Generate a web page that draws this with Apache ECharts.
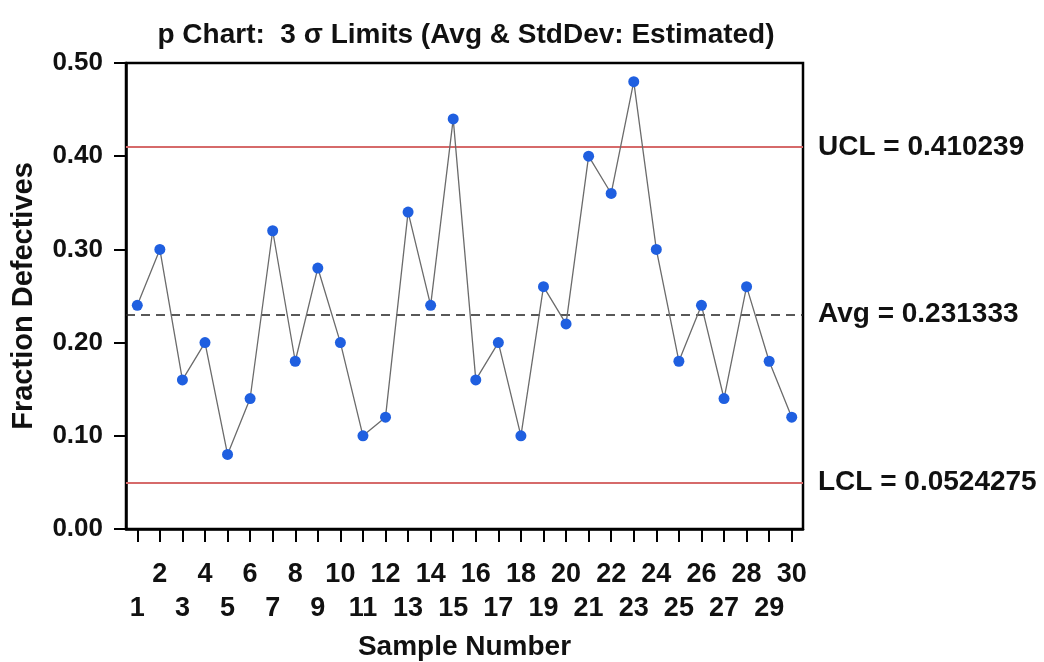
<!DOCTYPE html>
<html>
<head>
<meta charset="utf-8">
<script src="https://cdn.jsdelivr.net/npm/echarts@6/dist/echarts.min.js"></script>
<style>html,body{margin:0;padding:0;background:#fff}#c{width:1044px;height:662px}</style>
</head>
<body>
<div id="c"></div>
<script>
const samples = [1,2,3,4,5,6,7,8,9,10,11,12,13,14,15,16,17,18,19,20,21,22,23,24,25,26,27,28,29,30];
const fractions = [0.24,0.30,0.16,0.20,0.08,0.14,0.32,0.18,0.28,0.20,0.10,0.12,0.34,0.24,0.44,0.16,0.20,0.10,0.26,0.22,0.40,0.36,0.48,0.30,0.18,0.24,0.14,0.26,0.18,0.12];
const UCL = 0.410239;
const AVG = 0.231333;
const LCL = 0.0524275;
const yTicks = {min: 0, max: 0.5, interval: 0.1};

const FONT = 'Liberation Sans, Arial, Helvetica, sans-serif';
const chart = echarts.init(document.getElementById('c'), null, {renderer: 'canvas'});
chart.setOption({
  animation: false,
  backgroundColor: '#fff',
  title: {
    text: 'p Chart:  3 σ Limits (Avg & StdDev: Estimated)',
    left: 461, top: 16, textAlign: 'center',
    textStyle: {fontFamily: FONT, fontSize: 28, fontWeight: 'bold', color: '#111'}
  },
  grid: {left: 126, right: 241, top: 63, bottom: 133, containLabel: false, outerBoundsMode: 'none', show: true, borderColor: '#000', borderWidth: 2.5, backgroundColor: '#fff'},
  xAxis: {
    type: 'category',
    data: samples.map(String),
    boundaryGap: true,
    name: 'Sample Number',
    nameLocation: 'middle',
    nameGap: 104,
    nameTextStyle: {fontFamily: FONT, fontSize: 28, fontWeight: 'bold', color: '#111'},
    axisLine: {show: true, lineStyle: {color: '#000', width: 2.5}},
    axisTick: {show: true, alignWithLabel: true, length: 13, lineStyle: {color: '#000', width: 2}, interval: 0},
    axisLabel: {
      interval: 0, margin: 29, fontFamily: FONT, fontSize: 27, fontWeight: 'bold', color: '#111', lineHeight: 34,
      formatter: (v, i) => (i % 2 === 0 ? '\n' + v : v)
    },
    splitLine: {show: false}
  },
  yAxis: {
    type: 'value',
    min: yTicks.min, max: yTicks.max, interval: yTicks.interval,
    name: 'Fraction Defectives',
    nameLocation: 'middle',
    nameGap: 88,
    nameTextStyle: {fontFamily: FONT, fontSize: 29, fontWeight: 'bold', color: '#111'},
    axisLine: {show: true, lineStyle: {color: '#000', width: 2.5}},
    axisTick: {show: true, length: 12, lineStyle: {color: '#000', width: 2}},
    axisLabel: {margin: 23, fontFamily: FONT, fontSize: 26, fontWeight: 'bold', color: '#111', formatter: v => v.toFixed(2)},
    splitLine: {show: false}
  },
  series: [{
    type: 'line',
    data: fractions,
    symbol: 'circle',
    symbolSize: 11,
    itemStyle: {color: '#1f5fe0'},
    lineStyle: {color: '#6b6b6b', width: 1.3},
    z: 5,
    markLine: {
      silent: true,
      symbol: 'none',
      animation: false,
      data: [
        {yAxis: UCL, lineStyle: {color: '#d66a6a', width: 2, type: 'solid'}, label: {formatter: 'UCL = ' + UCL}},
        {yAxis: AVG, lineStyle: {color: '#222', width: 1.6, type: [9, 6]}, label: {formatter: 'Avg = ' + AVG}},
        {yAxis: LCL, lineStyle: {color: '#d66a6a', width: 2, type: 'solid'}, label: {formatter: 'LCL = ' + LCL}}
      ],
      label: {position: 'end', distance: 15, padding: [6, 0, 0, 0], fontFamily: FONT, fontSize: 28, fontWeight: 'bold', color: '#111'}
    }
  }]
});
</script>
</body>
</html>
